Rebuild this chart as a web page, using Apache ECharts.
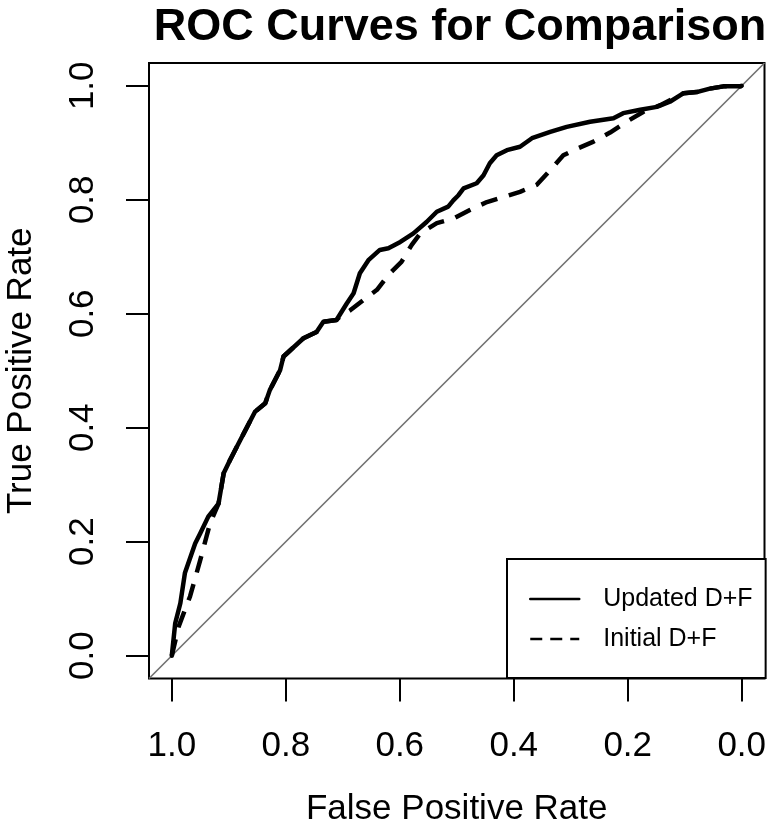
<!DOCTYPE html>
<html>
<head>
<meta charset="utf-8">
<script src="https://cdn.jsdelivr.net/npm/echarts@6/dist/echarts.min.js"></script>
<style>html,body{margin:0;padding:0;background:#fff;}#chart{width:768px;height:828px;}</style>
</head>
<body>
<div id="chart"></div>
<script>
// Updated D+F (solid) — specificity (x, reversed) and sensitivity (y)
const updatedSpec = [1.0, 0.994, 0.985, 0.977, 0.959, 0.950, 0.936, 0.918, 0.909, 0.898, 0.880, 0.854, 0.836, 0.828, 0.810, 0.804, 0.792, 0.769, 0.746, 0.734, 0.711, 0.693, 0.681, 0.670, 0.655, 0.635, 0.620, 0.599, 0.576, 0.553, 0.535, 0.515, 0.506, 0.497, 0.488, 0.465, 0.453, 0.442, 0.430, 0.412, 0.389, 0.368, 0.336, 0.307, 0.266, 0.225, 0.208, 0.178, 0.149, 0.126, 0.102, 0.079, 0.056, 0.032, 0.003, 0.0];
const updatedSens = [0.0, 0.057, 0.092, 0.145, 0.197, 0.215, 0.244, 0.267, 0.320, 0.343, 0.378, 0.428, 0.443, 0.466, 0.501, 0.525, 0.536, 0.557, 0.568, 0.586, 0.589, 0.618, 0.636, 0.671, 0.694, 0.712, 0.715, 0.726, 0.741, 0.761, 0.779, 0.788, 0.799, 0.808, 0.820, 0.829, 0.843, 0.864, 0.878, 0.887, 0.893, 0.908, 0.919, 0.928, 0.937, 0.943, 0.952, 0.958, 0.963, 0.972, 0.987, 0.989, 0.995, 0.999, 0.999, 1.0];
// Initial D+F (dashed)
const initialSpec = [1.0, 0.988, 0.968, 0.950, 0.933, 0.918, 0.909, 0.898, 0.880, 0.854, 0.836, 0.828, 0.810, 0.804, 0.792, 0.769, 0.746, 0.734, 0.711, 0.705, 0.687, 0.664, 0.640, 0.620, 0.597, 0.579, 0.564, 0.535, 0.506, 0.477, 0.447, 0.418, 0.389, 0.360, 0.336, 0.313, 0.295, 0.260, 0.231, 0.202, 0.173, 0.143, 0.114, 0.102, 0.079, 0.056, 0.032, 0.003, 0.0];
const initialSens = [0.0, 0.051, 0.104, 0.168, 0.232, 0.267, 0.320, 0.343, 0.378, 0.428, 0.443, 0.466, 0.501, 0.525, 0.536, 0.557, 0.568, 0.586, 0.589, 0.595, 0.606, 0.624, 0.642, 0.668, 0.691, 0.721, 0.741, 0.759, 0.767, 0.782, 0.796, 0.805, 0.814, 0.826, 0.852, 0.878, 0.887, 0.902, 0.918, 0.937, 0.954, 0.966, 0.981, 0.987, 0.989, 0.995, 0.999, 0.999, 1.0];
// chance diagonal (spans the plot region)
const diagX = [1.04, -0.04];
const diagY = [-0.04, 1.04];
const tickValues = [0, 0.2, 0.4, 0.6, 0.8, 1.0];
const seriesNames = ['Updated D+F', 'Initial D+F'];
const titleText = 'ROC Curves for Comparison';
const xName = 'False Positive Rate';
const yName = 'True Positive Rate';

const zip = (a, b) => a.map((v, i) => [v, b[i]]);
const FONT = '"Liberation Sans", Arial, Helvetica, sans-serif';

const chart = echarts.init(document.getElementById('chart'), null, {renderer: 'canvas'});
chart.setOption({
  animation: false,
  backgroundColor: '#fff',
  title: {
    text: titleText, left: 455, top: 0, textAlign: 'center',
    textStyle: {fontFamily: FONT, fontSize: 45, fontWeight: 'bold', color: '#000'}
  },
  grid: {left: 149, right: 3.5, top: 63, bottom: 149.5, outerBoundsMode: 'none', containLabel: false,
    show: true, borderColor: '#000', borderWidth: 2, backgroundColor: 'transparent'},
  xAxis: {
    type: 'value', inverse: true, min: -0.04, max: 1.04,
    name: xName, nameLocation: 'middle', nameGap: 113,
    nameTextStyle: {fontFamily: FONT, fontSize: 35, color: '#000'},
    axisLine: {show: false, onZero: false},
    splitLine: {show: false},
    axisTick: {show: true, length: 23, lineStyle: {color: '#000', width: 2}, customValues: tickValues},
    axisLabel: {customValues: tickValues, formatter: v => v.toFixed(1), fontFamily: FONT, fontSize: 35, color: '#000', margin: 50, hideOverlap: false}
  },
  yAxis: {
    type: 'value', min: -0.04, max: 1.04,
    name: yName, nameLocation: 'middle', nameGap: 110,
    nameTextStyle: {fontFamily: FONT, fontSize: 35, color: '#000'},
    axisLine: {show: false, onZero: false},
    splitLine: {show: false},
    axisTick: {show: true, length: 23, lineStyle: {color: '#000', width: 2}, customValues: tickValues},
    axisLabel: {customValues: tickValues, formatter: v => v.toFixed(1), rotate: 90, fontFamily: FONT, fontSize: 35, color: '#000', margin: 48, hideOverlap: false}
  },
  legend: {
    orient: 'vertical', left: 507, top: 559,
    padding: [25, 13, 24, 22], itemWidth: 49, itemHeight: 14, itemGap: 10,
    backgroundColor: '#fff', borderColor: '#000', borderWidth: 2, borderRadius: 0,
    textStyle: {fontFamily: FONT, fontSize: 25, color: '#000', lineHeight: 30, padding: [0, 0, 0, 19]},
    data: [
      {name: seriesNames[0], itemStyle: {opacity: 0}, lineStyle: {width: 2.5, type: 'solid'}},
      {name: seriesNames[1], itemStyle: {opacity: 0}, lineStyle: {width: 2.5, type: [12, 8]}}
    ]
  },
  series: [
    {
      type: 'line', name: 'chance', data: zip(diagX, diagY), symbol: 'none', silent: true,
      lineStyle: {color: '#707070', width: 1.6}, z: 1
    },
    {
      type: 'line', name: seriesNames[1], data: zip(initialSpec, initialSens), symbol: 'none',
      lineStyle: {color: '#000', width: 4.5, type: [17, 12], cap: 'butt', join: 'round'},
      itemStyle: {color: '#000'}, z: 2
    },
    {
      type: 'line', name: seriesNames[0], data: zip(updatedSpec, updatedSens), symbol: 'none',
      lineStyle: {color: '#000', width: 4.5, type: 'solid', join: 'round', cap: 'round'},
      itemStyle: {color: '#000'}, z: 3
    }
  ]
});
</script>
</body>
</html>
